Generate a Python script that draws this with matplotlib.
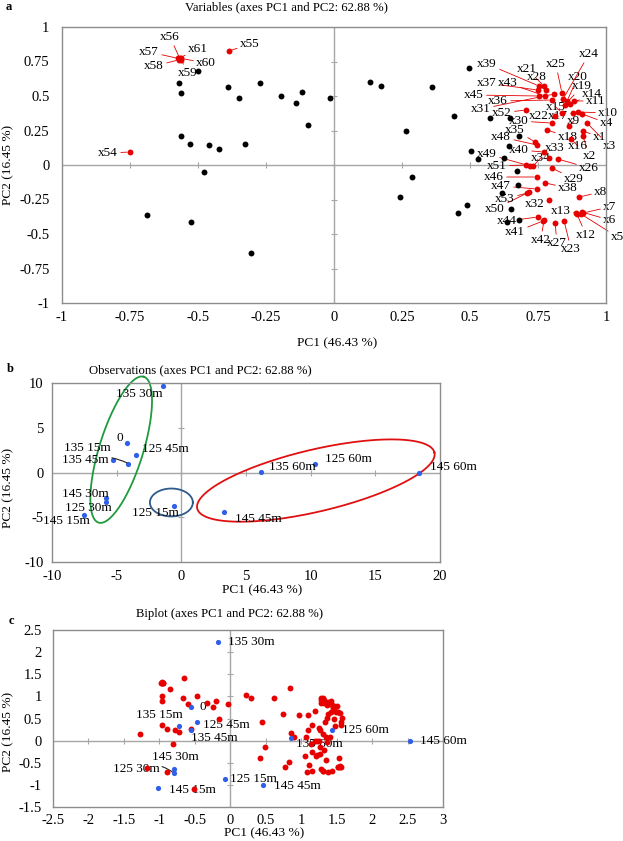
import numpy as np
import matplotlib
matplotlib.use('Agg')
import matplotlib.pyplot as plt

plt.rcParams['font.family'] = ['Liberation Serif', 'DejaVu Serif']

# ---- data: variable loadings on PC1 / PC2 (active variables, red) ----
var_names = ['x%d' % i for i in range(1, 62)]
var_pc1 = [0.915, 0.915, 0.930, 0.912, 0.908, 0.912, 0.915, 0.901, 0.864, 0.897,
           0.882, 0.893, 0.890, 0.868, 0.838, 0.871, 0.879, 0.783, 0.849, 0.857,
           0.772, 0.813, 0.846, 0.842, 0.838, 0.824, 0.813, 0.779, 0.801, 0.801,
           0.809, 0.790, 0.790, 0.732, 0.739, 0.801, 0.750, 0.776, 0.754, 0.772,
           0.768, 0.772, 0.776, 0.750, 0.754, 0.746, 0.746, 0.746, 0.721, 0.717,
           0.706, 0.706, 0.710, -0.750, -0.386, -0.566, -0.572, -0.570, -0.562, -0.561,
           -0.566]
var_pc2 = [0.246, 0.210, 0.304, 0.370, -0.355, -0.341, -0.348, -0.232, 0.283, 0.384,
           0.464, -0.355, -0.348, 0.442, 0.377, 0.188, 0.377, 0.254, 0.435, 0.464,
           0.572, 0.355, -0.406, 0.478, 0.522, 0.043, -0.420, 0.543, -0.022, 0.304,
           0.514, -0.254, 0.051, -0.007, 0.167, 0.471, 0.543, -0.130, 0.572, 0.094,
           -0.406, -0.399, 0.500, -0.377, 0.500, -0.087, -0.174, 0.145, -0.007, -0.196,
           0.000, 0.399, -0.203, 0.094, 0.826, 0.768, 0.772, 0.762, 0.764, 0.772,
           0.777]

# supplementary variables (black, unlabelled)
sup_pc1 = [-0.500, -0.570, -0.563, -0.390, -0.349, -0.272, -0.195, -0.140, -0.118, -0.096,
           -0.563, -0.529, -0.460, -0.423, -0.327, -0.478, -0.688, -0.526, -0.305, -0.015,
           0.132, 0.173, 0.360, 0.441, 0.265, 0.496, 0.504, 0.529, 0.574, 0.647,
           0.680, 0.643, 0.625, 0.673, 0.287, 0.243, 0.676, 0.618, 0.489, 0.456,
           0.651, 0.636, 0.680]
sup_pc2 = [0.681, 0.594, 0.522, 0.565, 0.486, 0.594, 0.500, 0.449, 0.529, 0.290,
           0.210, 0.152, 0.145, 0.116, 0.152, -0.051, -0.362, -0.413, -0.638, 0.486,
           0.601, 0.572, 0.565, 0.355, 0.246, 0.703, 0.101, 0.043, 0.341, 0.341,
           0.210, 0.138, 0.051, -0.043, -0.087, -0.232, -0.145, -0.203, -0.290, -0.348,
           -0.319, -0.413, -0.399]

# ---- data: observations ----
obs_names = ['135 30m', '0', '125 45m', '135 15m', '135 45m', '145 30m', '125 30m',
             '145 15m', '125 15m', '145 45m', '135 60m', '125 60m', '145 60m']
obs_pc1 = [-1.4, -4.2, -3.5, -5.3, -4.1, -5.8, -5.8, -7.5, -0.55, 3.3, 6.15, 10.3, 18.4]
obs_pc2 = [9.7, 3.35, 1.9, 1.45, 1.0, -2.9, -3.25, -4.7, -3.75, -4.45, 0.1, 1.0, 0.0]

# biplot coordinates of observations
bip_pc1 = [-0.18, -0.56, -0.47, -0.73, -0.56, -0.79, -0.79, -1.02, -0.07, 0.46, 0.85, 1.43, 2.53]
bip_pc2 = [2.24, 0.77, 0.43, 0.34, 0.25, -0.65, -0.74, -1.08, -0.86, -1.01, 0.05, 0.25, 0.0]
biplot_scale = 1.7  # scaling of variable loadings in the biplot

# ---- layout: label positions ----
var_label_pos = {
    'x1': (0.952, 0.203, 'left'), 'x2': (0.915, 0.065, 'left'), 'x3': (0.989, 0.138, 'left'),
    'x4': (0.978, 0.304, 'left'), 'x5': (1.018, -0.522, 'left'), 'x6': (0.989, -0.399, 'left'),
    'x7': (0.989, -0.304, 'left'), 'x8': (0.956, -0.196, 'left'), 'x9': (0.857, 0.319, 'left'),
    'x10': (0.971, 0.377, 'left'), 'x11': (0.926, 0.464, 'left'), 'x12': (0.890, -0.507, 'left'),
    'x13': (0.871, -0.333, 'right'), 'x14': (0.912, 0.514, 'left'), 'x15': (0.779, 0.420, 'left'),
    'x16': (0.860, 0.138, 'left'), 'x17': (0.787, 0.355, 'left'), 'x18': (0.824, 0.203, 'left'),
    'x19': (0.875, 0.572, 'left'), 'x20': (0.860, 0.638, 'left'), 'x21': (0.746, 0.696, 'right'),
    'x22': (0.717, 0.355, 'left'), 'x23': (0.835, -0.609, 'left'), 'x24': (0.901, 0.804, 'left'),
    'x25': (0.779, 0.732, 'left'), 'x26': (0.901, -0.022, 'left'), 'x27': (0.783, -0.565, 'left'),
    'x28': (0.783, 0.638, 'right'), 'x29': (0.846, -0.101, 'left'), 'x30': (0.643, 0.319, 'left'),
    'x31': (0.577, 0.406, 'right'), 'x32': (0.776, -0.283, 'right'), 'x33': (0.776, 0.123, 'left'),
    'x34': (0.724, 0.051, 'left'), 'x35': (0.702, 0.254, 'right'), 'x36': (0.640, 0.464, 'right'),
    'x37': (0.599, 0.594, 'right'), 'x38': (0.824, -0.167, 'left'), 'x39': (0.599, 0.732, 'right'),
    'x40': (0.717, 0.109, 'right'), 'x41': (0.702, -0.486, 'right'), 'x42': (0.724, -0.543, 'left'),
    'x43': (0.676, 0.594, 'right'), 'x44': (0.673, -0.406, 'right'), 'x45': (0.551, 0.507, 'right'),
    'x46': (0.625, -0.087, 'right'), 'x47': (0.651, -0.152, 'right'), 'x48': (0.651, 0.203, 'right'),
    'x49': (0.599, 0.080, 'right'), 'x50': (0.629, -0.319, 'right'), 'x51': (0.636, -0.007, 'right'),
    'x52': (0.654, 0.377, 'right'), 'x53': (0.665, -0.246, 'right'), 'x54': (-0.794, 0.087, 'right'),
    'x55': (-0.346, 0.877, 'left'), 'x56': (-0.603, 0.928, 'center'), 'x57': (-0.643, 0.819, 'right'),
    'x58': (-0.625, 0.717, 'right'), 'x59': (-0.574, 0.667, 'left'), 'x60': (-0.507, 0.739, 'left'),
    'x61': (-0.537, 0.841, 'left'),
}
obs_label_pos = [(-5.02, 8.72), (-5.02, 3.91), (-3.01, 2.68), (-9.11, 2.79), (-9.19, 1.45),
                 (-9.19, -2.35), (-9.03, -4.02), (-10.66, -5.47), (-3.78, -4.58), (4.17, -5.14),
                 (6.80, 0.67), (11.12, 1.56), (19.23, 0.56)]
bip_label_pos = [(-0.03, 2.22), (-0.44, 0.75), (-0.38, 0.36), (-1.33, 0.57), (-0.55, 0.07),
                 (-1.11, -0.38), (-1.66, -0.63), (-0.87, -1.11), (-0.01, -0.86), (0.61, -1.02),
                 (0.93, -0.07), (1.57, 0.23), (2.68, 0.0)]

RED = '#e60000'
BLUE = '#2f5ee8'
GRAY = '#8c8c8c'
ZERO = '#a6a6a6'

W, H = 623, 841
fig = plt.figure(figsize=(W / 100, H / 100), dpi=100)


def px_axes(left, right, top, bottom):
    return fig.add_axes([left / W, 1 - bottom / H, (right - left) / W, (bottom - top) / H])


def style(ax, xt, yt, xpad, ypad):
    ax.set_xlim(xt[0], xt[-1])
    ax.set_ylim(yt[0], yt[-1])
    ax.set_xticks(xt)
    ax.set_yticks(yt)
    ax.set_xticklabels(['%g' % v for v in xt])
    ax.set_yticklabels(['%g' % v for v in yt])
    ax.tick_params(length=0, labelsize=10.5)
    ax.tick_params(axis='x', pad=xpad)
    ax.tick_params(axis='y', pad=ypad)
    for s in ax.spines.values():
        s.set_color(GRAY)
        s.set_linewidth(1)
    ax.axhline(0, color=ZERO, lw=1, zorder=1)
    ax.axvline(0, color=ZERO, lw=1, zorder=1)
    ax.plot(xt[1:-1], np.zeros(len(xt) - 2), ls='none', marker='|', ms=5, mew=0.8, color=ZERO, zorder=1)
    ax.plot(np.zeros(len(yt) - 2), yt[1:-1], ls='none', marker='_', ms=5, mew=0.8, color=ZERO, zorder=1)


# ---------------- panel a ----------------
ax1 = px_axes(62, 606, 27, 303)
style(ax1, np.arange(-1, 1.01, 0.25), np.arange(-1, 1.01, 0.25), 6, 9)
ax1.scatter(sup_pc1, sup_pc2, s=18, color='black', zorder=3, linewidths=0)
ax1.scatter(var_pc1, var_pc2, s=18, color=RED, zorder=3, linewidths=0)
for name, vx, vy in zip(var_names, var_pc1, var_pc2):
    lx, ly, ha = var_label_pos[name]
    ax1.annotate(name, xy=(vx, vy), xytext=(lx, ly), ha=ha, va='center', fontsize=9.5,
                 arrowprops=dict(arrowstyle='-', color=RED, lw=0.6, shrinkA=0, shrinkB=2),
                 zorder=2.5)

fig.text(6 / W, 1 - 7 / H, 'a', fontweight='bold', fontsize=9, ha='left', va='center')
fig.text(286 / W, 1 - 7 / H, 'Variables (axes PC1 and PC2: 62.88 %)', fontsize=9.2, ha='center', va='center')
fig.text(337 / W, 1 - 343 / H, 'PC1 (46.43 %)', fontsize=9.6, ha='center', va='center')
fig.text(8 / W, 1 - 165 / H, 'PC2 (16.45 %)', fontsize=9.6, ha='center', va='center', rotation=90)

# ---------------- panel b ----------------
ax2 = px_axes(52, 440, 383, 562)
style(ax2, np.arange(-10, 20.1, 5), np.arange(-10, 10.1, 5), 6, 6)
ax2.scatter(obs_pc1, obs_pc2, s=14, color=BLUE, zorder=3, linewidths=0)
for i, (name, ox, oy) in enumerate(zip(obs_names, obs_pc1, obs_pc2)):
    lx, ly = obs_label_pos[i]
    if name == '135 45m':
        ax2.annotate(name, xy=(ox, oy), xytext=(lx, ly), ha='left', va='center', fontsize=9.5,
                     arrowprops=dict(arrowstyle='-', color='#222222', lw=0.8,
                                     connectionstyle='arc3,rad=-0.2', shrinkA=0, shrinkB=1))
    else:
        ax2.text(lx, ly, name, ha='left', va='center', fontsize=9.5, zorder=4)

# group ellipses: centre, half-axis vectors
t = np.linspace(0, 2 * np.pi, 300)
groups = [((-4.65, 2.55), (1.75, 8.15), (1.62, -0.73), '#1f9a3e'),
          ((-0.77, -3.35), (1.66, 0.0), (0.0, 1.56), '#2e5b8a'),
          ((10.4, -0.9), (9.17, 3.13), (0.55, -3.37), '#e01010')]
for (cx, cy), (ux, uy), (vx, vy), col in groups:
    ax2.plot(cx + ux * np.cos(t) + vx * np.sin(t), cy + uy * np.cos(t) + vy * np.sin(t),
             color=col, lw=1.3, zorder=2, clip_on=False)

fig.text(7 / W, 1 - 369 / H, 'b', fontweight='bold', fontsize=9, ha='left', va='center')
fig.text(200 / W, 1 - 370 / H, 'Observations (axes PC1 and PC2: 62.88 %)', fontsize=9.2, ha='center', va='center')
fig.text(262 / W, 1 - 590 / H, 'PC1 (46.43 %)', fontsize=9.6, ha='center', va='center')
fig.text(8 / W, 1 - 488 / H, 'PC2 (16.45 %)', fontsize=9.6, ha='center', va='center', rotation=90)

# ---------------- panel c ----------------
ax3 = px_axes(53, 443, 630, 807)
style(ax3, np.arange(-2.5, 3.01, 0.5), np.arange(-1.5, 2.51, 0.5), 5, 8)
all_pc1 = np.array(var_pc1 + sup_pc1) * biplot_scale
all_pc2 = np.array(var_pc2 + sup_pc2) * biplot_scale
ax3.scatter(all_pc1, all_pc2, s=18, color=RED, zorder=3, linewidths=0)
ax3.scatter(bip_pc1, bip_pc2, s=14, color=BLUE, zorder=4, linewidths=0)
for i, (name, bx, by) in enumerate(zip(obs_names, bip_pc1, bip_pc2)):
    lx, ly = bip_label_pos[i]
    if name == '125 30m':
        ax3.annotate(name, xy=(bx, by), xytext=(lx, ly), ha='left', va='center', fontsize=9.5,
                     arrowprops=dict(arrowstyle='-', color='#222222', lw=0.8,
                                     connectionstyle='arc3,rad=-0.3', shrinkA=0, shrinkB=1),
                     zorder=2.5)
    else:
        ax3.text(lx, ly, name, ha='left', va='center', fontsize=9.5, zorder=2.5)

fig.text(9 / W, 1 - 621 / H, 'c', fontweight='bold', fontsize=9, ha='left', va='center')
fig.text(230 / W, 1 - 614 / H, 'Biplot (axes PC1 and PC2: 62.88 %)', fontsize=9.2, ha='center', va='center')
fig.text(264 / W, 1 - 833 / H, 'PC1 (46.43 %)', fontsize=9.6, ha='center', va='center')
fig.text(8 / W, 1 - 732 / H, 'PC2 (16.45 %)', fontsize=9.6, ha='center', va='center', rotation=90)

fig.savefig('out.png', dpi=100)
